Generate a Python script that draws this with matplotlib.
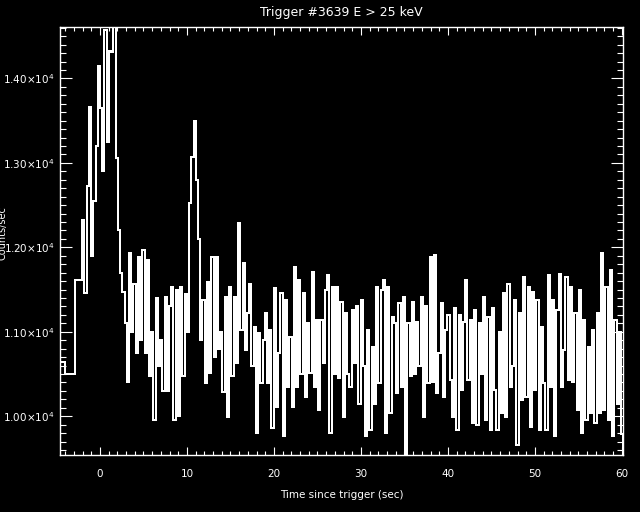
#!/usr/bin/env python3
"""
Courbe de lumière BATSE, trigger #3639, E > 25 keV (style IDL, fond noir).
"""
import numpy as np
import matplotlib
matplotlib.use("Agg")
import matplotlib.pyplot as plt
from matplotlib.ticker import MultipleLocator, FixedLocator, FixedFormatter

# pré-trigger : bins larges (bords en s, taux en coups/s)
pre_edges = [-5.12, -4.08, -2.84, -2.048]
pre_rates = [10640, 10500, 11610]

# après -2.048 s : bins de 0.256 s
bin_width = 0.256
t_start = -2.048
rates = [
    12320, 11460, 12730, 13660, 11900, 12550, 13200, 14150, 13650, 12900,
    14570, 13250, 14330, 14310, 14800, 13060, 12200, 11700, 11470, 11100,
    10400, 11930, 11000, 11570, 10750, 11890, 10900, 11970, 10750, 11850,
    10470, 11000, 9960, 11400, 10600, 10900, 10300, 11415, 10300, 11300,
    11530, 9960, 11500, 10000, 11530, 10470, 11450, 11000, 12520, 13070,
    13500, 12800, 12100, 10900, 11380, 10390, 11590, 10510, 11890, 10700,
    11890, 10800, 11000, 10290, 11415, 9995, 11535, 10470, 11415, 10625,
    12284, 11020, 11810, 10785, 11220, 11570, 10590, 11060, 9800, 10980,
    10390, 10900, 11220, 10390, 11020, 9858, 11515, 10114, 10750, 11455,
    9760, 11380, 10350, 10940, 10114, 11770, 10350, 11610, 10500, 11455,
    10232, 11100, 10510, 11710, 10350, 11140, 10075, 11140, 10625, 11495,
    11670, 9798, 11530, 10500, 11530, 10450, 11356, 9995, 11220, 10500,
    10350, 11260, 10625, 11300, 10150, 11380, 10590, 9760, 11020, 9837,
    10825, 10150, 11530, 10390, 11495, 11610, 9798, 11530, 10035, 11180,
    11100, 10270, 11340, 10350, 11415, 9500, 11100, 10470, 11356, 10500,
    11120, 10590, 11415, 9995, 11300, 10390, 11890, 10410, 11910, 10270,
    10745, 11340, 10230, 11020, 11200, 10430, 9995, 11280, 9837, 11200,
    10310, 11120, 11610, 10430, 11140, 9917, 11260, 9900, 11100, 10500,
    11415, 9955, 11180, 9837, 11280, 10310, 9837, 11000, 10035, 11455,
    9995, 11570, 10350, 10590, 11380, 9660, 11220, 10190, 11650, 10230,
    11530, 9877, 11475, 10310, 11380, 9837, 11060, 10390, 9837, 11670,
    10350, 11380, 9760, 11260, 11690, 10350, 10785, 11650, 10430, 11530,
    10400, 11220, 10075, 11495, 9798, 11140, 9955, 10825, 10035, 11020,
    9917, 11220, 10035, 11930, 10075, 11530, 9955, 11730, 9760, 11140,
    10150, 11000, 9790,
]

y_ticks = [10000, 11000, 12000, 13000, 14000]
y_labels = [r"1.00$\times$10$^{4}$", r"1.10$\times$10$^{4}$", r"1.20$\times$10$^{4}$",
            r"1.30$\times$10$^{4}$", r"1.40$\times$10$^{4}$"]

fine_edges = t_start + bin_width * np.arange(len(rates) + 1)
edges = np.concatenate([pre_edges, fine_edges[1:]])
values = np.concatenate([pre_rates, rates])

plt.rcParams["font.family"] = "DejaVu Sans"
fig = plt.figure(figsize=(6.4, 5.12), dpi=100, facecolor="black")
ax = fig.add_axes([0.09375, 0.1113, 0.8793, 0.836])
ax.set_facecolor("black")

ax.stairs(values, edges, color="white", linewidth=1.4, antialiased=False)

ax.set_xlim(-4.6, 60.1)
ax.set_ylim(9540, 14610)

for s in ax.spines.values():
    s.set_color("white")
    s.set_linewidth(1.0)

ax.xaxis.set_major_locator(MultipleLocator(10))
ax.xaxis.set_minor_locator(MultipleLocator(1))
ax.yaxis.set_major_locator(FixedLocator(y_ticks))
ax.yaxis.set_major_formatter(FixedFormatter(y_labels))
ax.yaxis.set_minor_locator(MultipleLocator(100))

ax.tick_params(axis="both", which="both", direction="in", colors="white",
               top=True, right=True, labelsize=7.5)
ax.tick_params(axis="x", which="major", length=6.1, width=0.8, pad=10)
ax.tick_params(axis="x", which="minor", length=3.1, width=0.8)
ax.tick_params(axis="y", which="major", length=8.3, width=0.8, pad=4)
ax.tick_params(axis="y", which="minor", length=4.1, width=0.8)

ax.set_title("Trigger #3639 E > 25 keV", color="white", fontsize=9, pad=8)
ax.set_xlabel("Time since trigger (sec)", color="white", fontsize=7.5, labelpad=8)
fig.text(0.004, 0.545, "Counts/sec", color="white", fontsize=7,
         rotation=90, ha="center", va="center")

fig.savefig("out.png", dpi=100, facecolor="black")
plt.close(fig)
